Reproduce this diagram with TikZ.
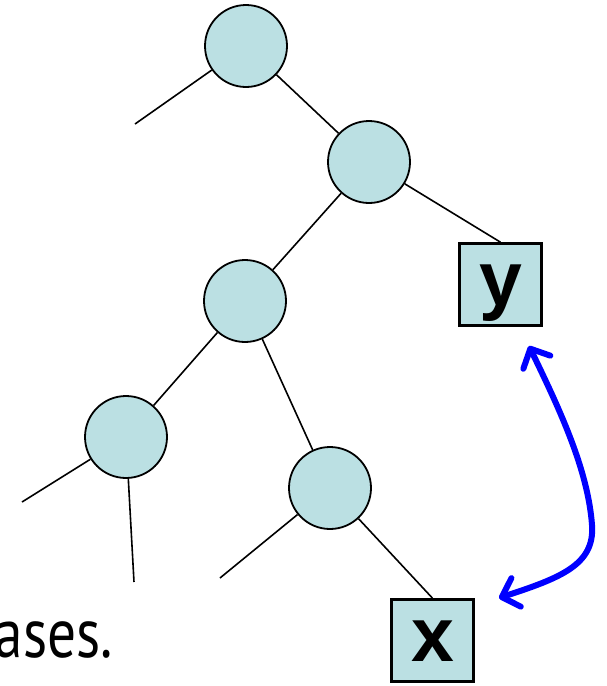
\documentclass[tikz,border=0pt]{standalone}
\usepackage{fontspec}
\setmainfont{Liberation Sans}
\newfontfamily\cutfont{PT Sans}
\usetikzlibrary{arrows.meta}
\definecolor{nodefill}{RGB}{187,224,227}
\definecolor{swapblue}{RGB}{0,0,255}
\tikzset{
  treenode/.style={draw, circle, fill=nodefill, line width=1.8pt, minimum size=82pt, inner sep=0pt},
  keybox/.style={draw, rectangle, fill=nodefill, line width=2.6pt, minimum size=82pt, inner sep=0pt,
    text height=50pt, text depth=8pt, font=\bfseries\fontsize{77}{80}\selectfont},
  edge/.style={line width=1.6pt},
  swap/.style={swapblue, line width=6pt, line cap=round,
    {Straight Barb[round,length=15pt,width=30pt]}-{Straight Barb[round,length=15pt,width=30pt]}}
}
\begin{document}
\begin{tikzpicture}[x=1pt, y=-1pt]
  \useasboundingbox (0,0) rectangle (607,686);
  \node[treenode] (r) at (246,46) {};
  \node[treenode] (a) at (369,162) {};
  \node[treenode] (b) at (245,301) {};
  \node[treenode] (c) at (126,437) {};
  \node[treenode] (d) at (330,488) {};
  \node[keybox] (y) at (500.5,284.5) {y};
  \node[keybox] (x) at (432.5,640.5) {x};
  \node[anchor=base east, inner sep=0pt, font=\cutfont\fontsize{70}{72}\selectfont] (cut) at (113,657) {\scalebox{0.82}[1]{ases.}};
  % free ends of the subtrees
  \coordinate (rl) at (135,124);
  \coordinate (cl) at (22,502);
  \coordinate (cr) at (134,582);
  \coordinate (dl) at (220,578);
  % the tree
  \draw[edge] (r) -- (rl);
  \draw[edge] (r) -- (a);
  \draw[edge] (a) -- (b);
  \draw[edge] (a) -- (y.north);
  \draw[edge] (b) -- (c);
  \draw[edge] (b) -- (d);
  \draw[edge] (c) -- (cl);
  \draw[edge] (c) -- (cr);
  \draw[edge] (d) -- (dl);
  \draw[edge] (d) -- (x.north);
  % swap of x and y
  \coordinate (xtip) at (499,598);
  \coordinate (ytip) at (529,346);
  \draw[swap] (xtip) .. controls (560,578) and (595,565) .. (592,525)
    .. controls (588,470) and (560,410) .. (ytip);
\end{tikzpicture}
\end{document}
